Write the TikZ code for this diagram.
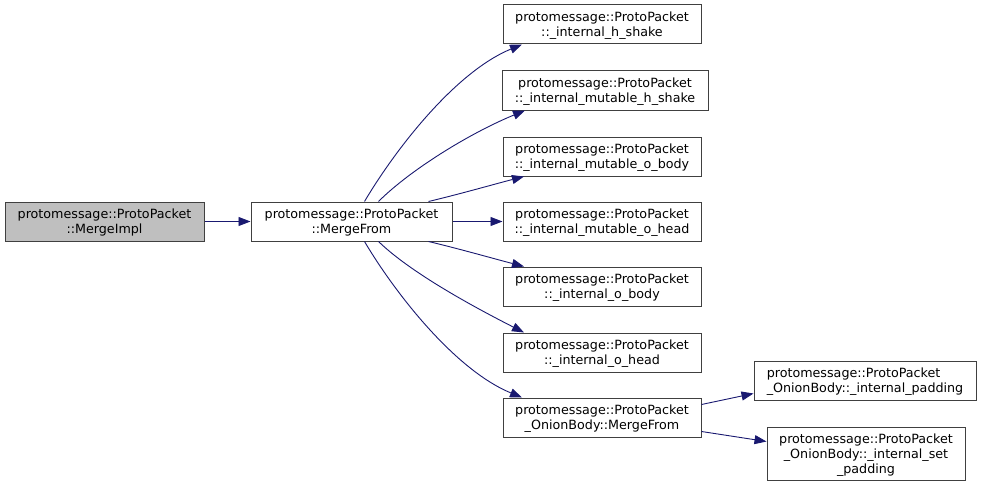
\documentclass[tikz,border=0pt]{standalone}
\usepackage{fontspec}
\setmainfont{DejaVu Sans}
\usetikzlibrary{arrows.meta}
\definecolor{edgec}{HTML}{191970}
\definecolor{bordc}{HTML}{404040}
\definecolor{fillg}{HTML}{BFBFBF}
\begin{document}
\begin{tikzpicture}[x=1pt,y=-1pt,
  box/.style={draw=bordc,line width=1pt,fill=white,inner sep=0pt,align=center,
    font=\fontsize{12.7pt}{15pt}\selectfont,text depth=0pt},
  call/.style={draw=edgec,line width=0.9pt,-{Triangle[length=12pt,width=9pt,fill=edgec]}}]
\useasboundingbox (0,0) rectangle (983,487);
\node[box,fill=fillg,minimum width=199pt,minimum height=39pt] (impl) at (104.5,221.5) {protomessage::ProtoPacket\\::MergeImpl};
\node[box,minimum width=201pt,minimum height=39pt] (mf) at (351.5,221.5) {protomessage::ProtoPacket\\::MergeFrom};
\node[box,minimum width=198pt,minimum height=39pt] (hs) at (602,24.5) {protomessage::ProtoPacket\\::\_internal\_h\_shake};
\node[box,minimum width=206pt,minimum height=39pt] (mhs) at (605,90.5) {protomessage::ProtoPacket\\::\_internal\_mutable\_h\_shake};
\node[box,minimum width=198pt,minimum height=39pt] (mob) at (602,156.5) {protomessage::ProtoPacket\\::\_internal\_mutable\_o\_body};
\node[box,minimum width=198pt,minimum height=39pt] (moh) at (602,221.5) {protomessage::ProtoPacket\\::\_internal\_mutable\_o\_head};
\node[box,minimum width=198pt,minimum height=39pt] (ob) at (602,286.5) {protomessage::ProtoPacket\\::\_internal\_o\_body};
\node[box,minimum width=198pt,minimum height=39pt] (oh) at (602,352.5) {protomessage::ProtoPacket\\::\_internal\_o\_head};
\node[box,minimum width=198pt,minimum height=39pt] (omf) at (602,417.5) {protomessage::ProtoPacket\\\_OnionBody::MergeFrom};
\node[box,align=left,minimum width=222pt,minimum height=39pt] (pad) at (865,380.5) {protomessage::ProtoPacket\\\_OnionBody::\_internal\_padding};
\node[box,minimum width=198pt,minimum height=53pt] (spad) at (866,453.5) {protomessage::ProtoPacket\\\_OnionBody::\_internal\_set\\\_padding};
\draw[call] (impl.east) -- (mf.west);
\draw[call] ([xshift=13pt]mf.north) .. controls (395,150) and (455,72) .. ([xshift=-80pt]hs.south);
\draw[call] ([xshift=27pt]mf.north) .. controls (410,170) and (470,133) .. ([xshift=-80pt]mhs.south);
\draw[call] ([xshift=77pt]mf.north) .. controls (460,194) and (495,184) .. ([xshift=-78pt]mob.south);
\draw[call] (mf.east) -- (moh.west);
\draw[call] ([xshift=77pt]mf.south) .. controls (460,249) and (495,259) .. ([xshift=-78pt]ob.north);
\draw[call] ([xshift=27pt]mf.south) .. controls (410,272) and (470,305) .. ([xshift=-78pt]oh.north);
\draw[call] ([xshift=13pt]mf.south) .. controls (395,293) and (455,370) .. ([xshift=-80pt]omf.north);
\draw[call] ([yshift=13pt]omf.east) -- ([yshift=-13pt]pad.west);
\draw[call] ([yshift=-14pt]omf.east) -- ([yshift=12pt]spad.west);
\end{tikzpicture}
\end{document}
